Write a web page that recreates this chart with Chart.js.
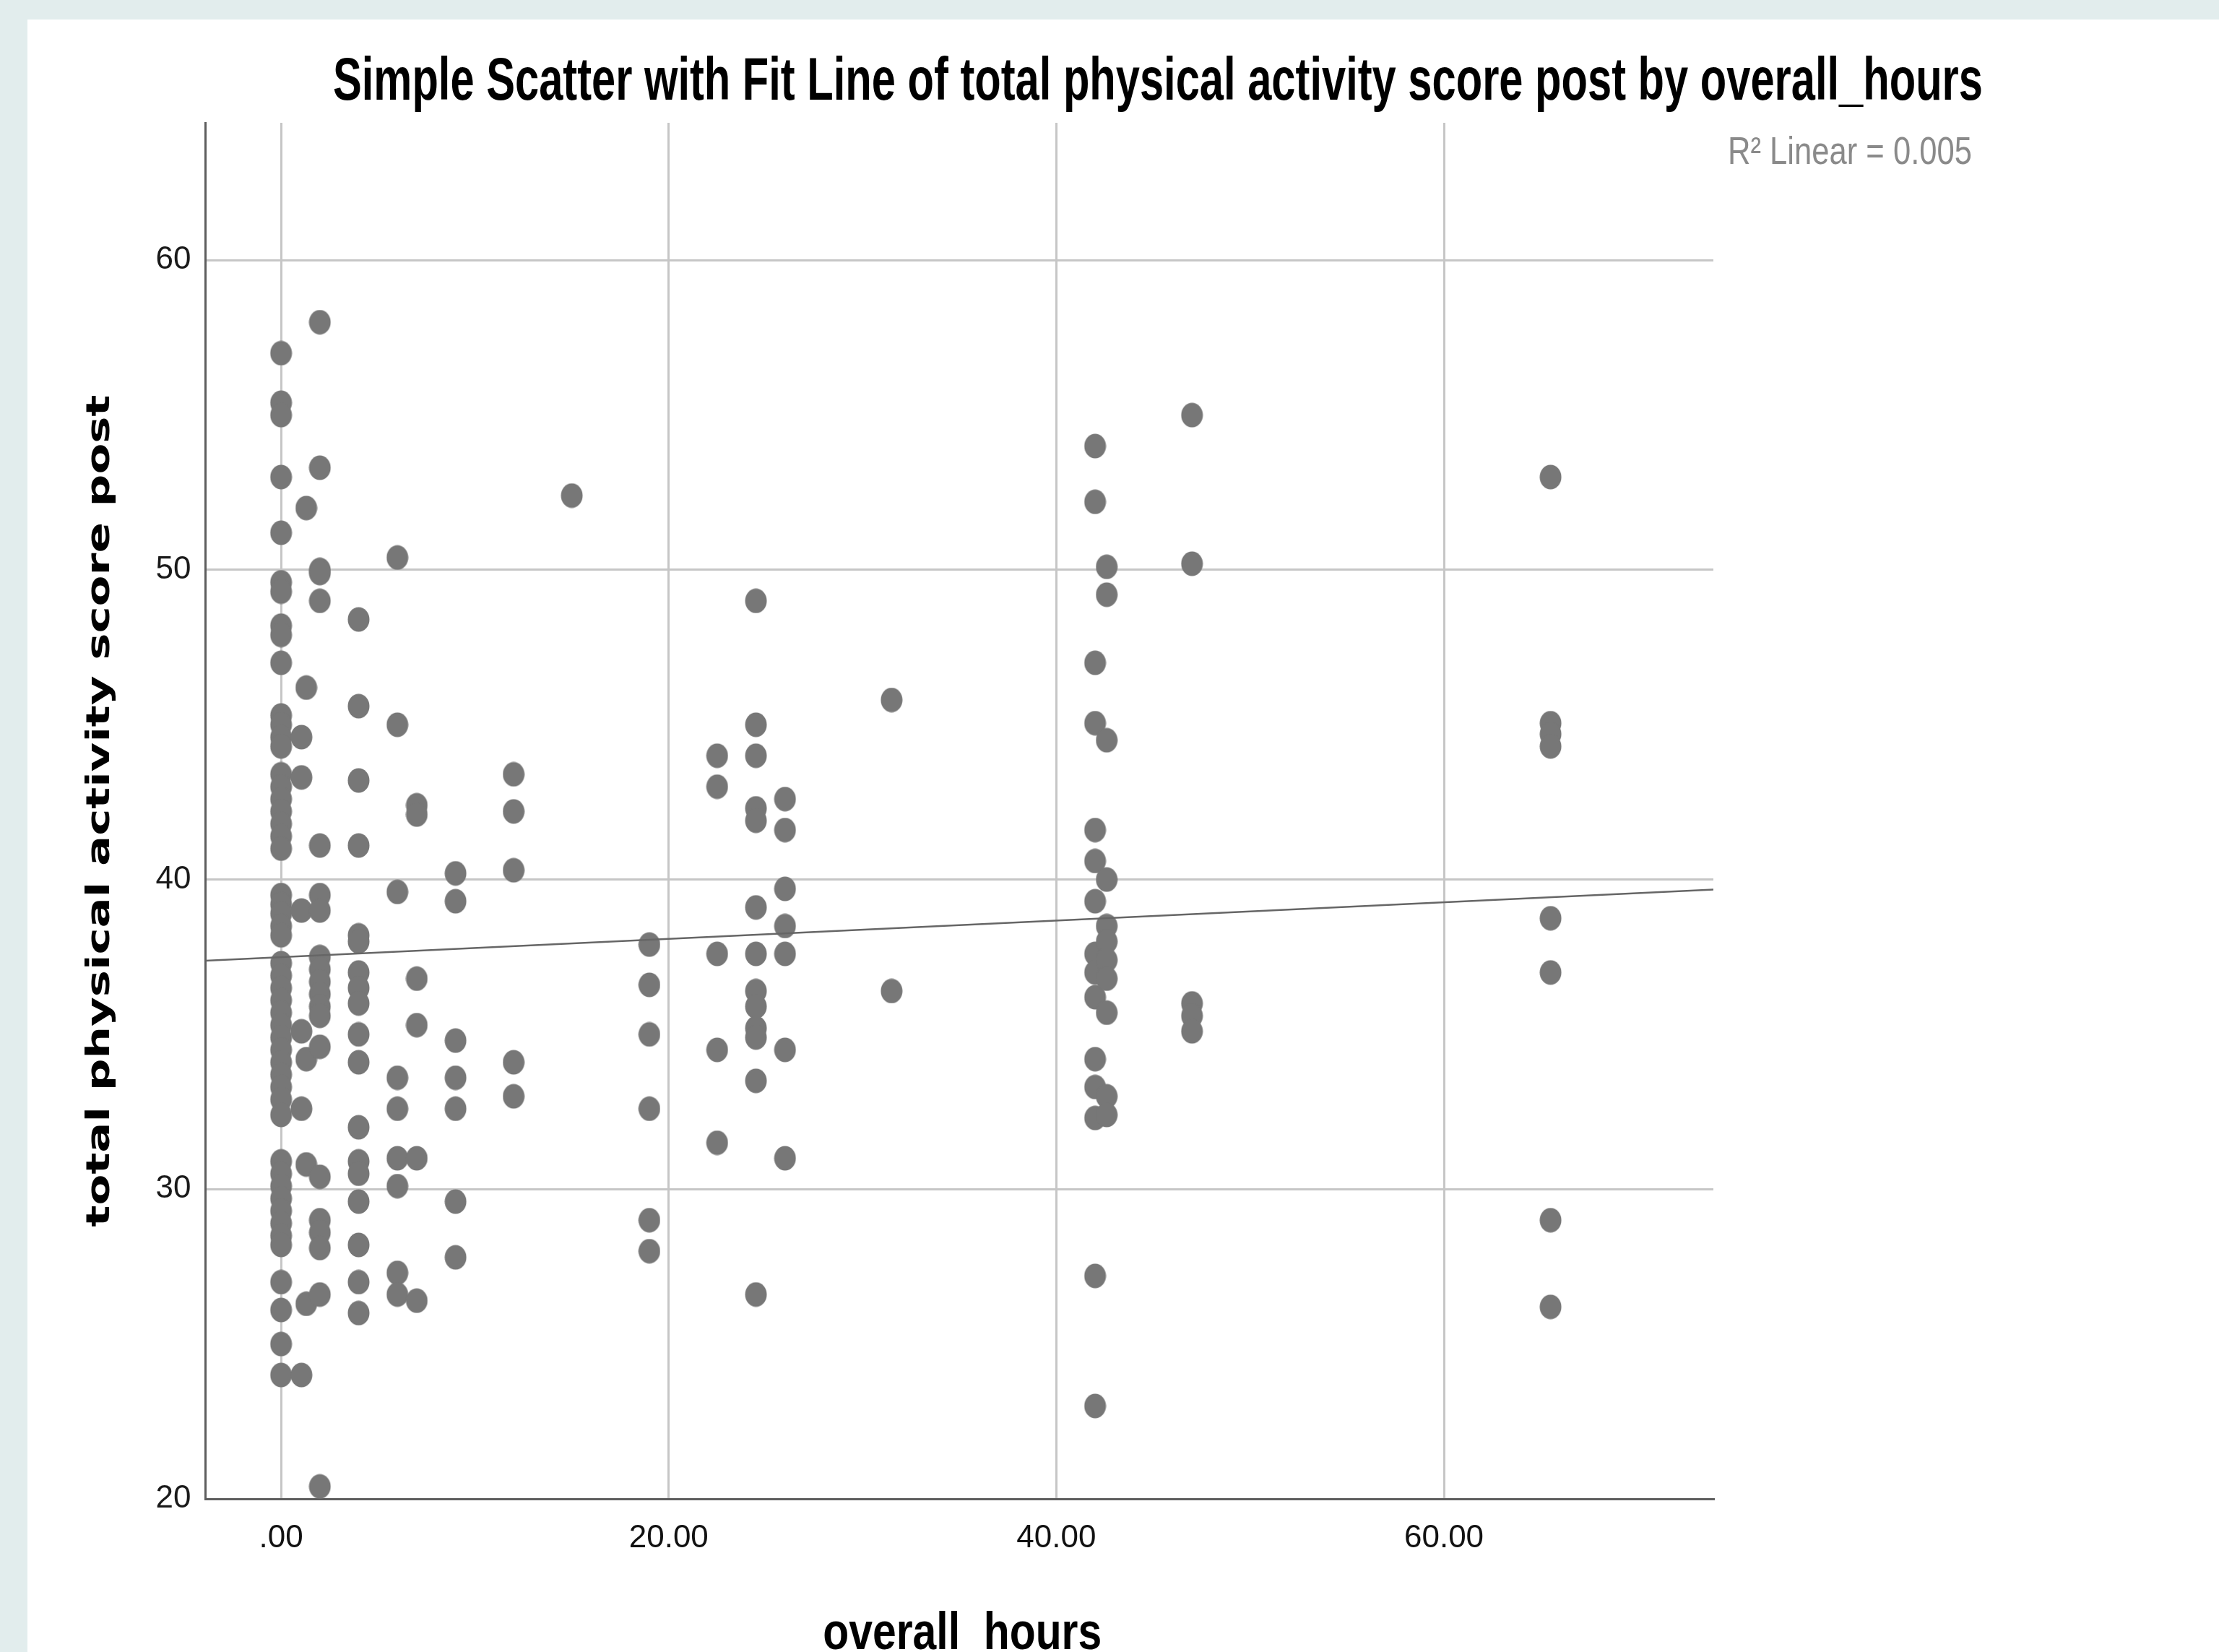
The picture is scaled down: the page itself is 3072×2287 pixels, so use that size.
<!DOCTYPE html>
<html lang="en">
<head>
    <meta charset="UTF-8">
    <title>Simple Scatter with Fit Line</title>
    <script src="https://cdn.jsdelivr.net/npm/chart.js"></script>
    <style>
        html, body { margin: 0; padding: 0; overflow: hidden; background: #e2eded; }
        .panel { position: absolute; left: 38px; top: 27px; width: 3034px; height: 2300px; background: #ffffff; }
    </style>
</head>
<body>

    <div class="panel"><canvas id="scatter"></canvas></div>

    <script>
        // overall_hours value of each column of points
        const hourGroups = [0, 1.05, 1.3, 2, 4, 6, 7, 9, 12, 15, 19, 22.5, 24.5, 26, 31.5, 42, 42.6, 47, 65.5];

        // total physical activity score post, one list per hour column
        const scoresAt0 = [57.0, 55.4, 55.0, 53.0, 51.2, 49.6, 49.3, 48.2, 47.9, 47.0, 45.3, 45.0, 44.6, 44.3, 43.4, 43.0, 42.6, 42.2, 41.8, 41.4, 41.0, 39.5, 39.2, 38.9, 38.5, 38.2, 37.3, 36.9, 36.5, 36.1, 35.7, 35.3, 34.9, 34.5, 34.1, 33.7, 33.3, 32.9, 32.4, 30.9, 30.5, 30.1, 29.7, 29.3, 28.9, 28.5, 28.2, 27.0, 26.1, 25.0, 24.0];
        const scoresAt1 = [44.6, 43.3, 39.0, 35.1, 32.6, 24.0];
        const scoresAt1_3 = [52.0, 46.2, 34.2, 30.8, 26.3];
        const scoresAt2 = [58.0, 53.3, 50.0, 49.9, 49.0, 41.1, 39.5, 39.0, 37.5, 37.1, 36.7, 36.3, 35.9, 35.6, 34.6, 30.4, 29.0, 28.6, 28.1, 26.6, 20.4];
        const scoresAt4 = [48.4, 45.6, 43.2, 41.1, 38.2, 38.0, 37.0, 36.5, 36.0, 35.0, 34.1, 32.0, 30.9, 30.5, 29.6, 28.2, 27.0, 26.0];
        const scoresAt6 = [50.4, 45.0, 39.6, 33.6, 32.6, 31.0, 30.1, 27.3, 26.6];
        const scoresAt7 = [42.4, 42.1, 36.8, 35.3, 31.0, 26.4];
        const scoresAt9 = [40.2, 39.3, 34.8, 33.6, 32.6, 29.6, 27.8];
        const scoresAt12 = [43.4, 42.2, 40.3, 34.1, 33.0];
        const scoresAt15 = [52.4];
        const scoresAt19 = [37.9, 36.6, 35.0, 32.6, 29.0, 28.0];
        const scoresAt22_5 = [44.0, 43.0, 37.6, 34.5, 31.5];
        const scoresAt24_5 = [49.0, 45.0, 44.0, 42.3, 41.9, 39.1, 37.6, 36.4, 35.9, 35.2, 34.9, 33.5, 26.6];
        const scoresAt26 = [42.6, 41.6, 39.7, 38.5, 37.6, 34.5, 31.0];
        const scoresAt31_5 = [45.8, 36.4];
        const scoresAt42 = [54.0, 52.2, 47.0, 45.05, 41.6, 40.6, 39.3, 37.6, 37.0, 36.2, 34.2, 33.3, 32.3, 27.2, 23.0];
        const scoresAt42_6 = [50.1, 49.2, 44.5, 40.0, 38.5, 38.0, 37.4, 36.8, 35.7, 33.0, 32.4];
        const scoresAt47 = [55.0, 50.2, 36.0, 35.6, 35.1];
        const scoresAt65_5 = [53.0, 45.05, 44.7, 44.3, 38.75, 37.0, 29.0, 26.2];

        const scoreGroups = [scoresAt0, scoresAt1, scoresAt1_3, scoresAt2, scoresAt4, scoresAt6, scoresAt7, scoresAt9,
            scoresAt12, scoresAt15, scoresAt19, scoresAt22_5, scoresAt24_5, scoresAt26, scoresAt31_5, scoresAt42,
            scoresAt42_6, scoresAt47, scoresAt65_5];

        const fitHours = [-3.9, 73.9];
        const fitScores = [37.38, 39.68];

        // axis ticks
        const xTickValues = [0, 20, 40, 60];
        const yTickValues = [20, 30, 40, 50, 60];

        const chartTitle = 'Simple Scatter with Fit Line of total physical activity score post by overall_hours';
        const fitLabel = 'R\u00B2 Linear = 0.005';
        const xTitle = 'overall_hours';
        const yTitle = 'total physical activity score post';

        // build the scatter points from the columns
        const points = [];
        hourGroups.forEach((h, i) => {
            scoreGroups[i].forEach(s => points.push({ x: h, y: s }));
        });
        const fitPoints = fitHours.map((h, i) => ({ x: h, y: fitScores[i] }));

        // SPSS draws its markers slightly taller than wide
        const dot = document.createElement('canvas');
        dot.width = 31;
        dot.height = 35;
        const dctx = dot.getContext('2d');
        dctx.fillStyle = '#777777';
        dctx.beginPath();
        dctx.ellipse(15.5, 17.5, 15, 17, 0, 0, Math.PI * 2);
        dctx.fill();

        // draw text squeezed/stretched to a given length
        function drawFitted(c, text, x, y, font, width, align, color) {
            c.save();
            c.font = font;
            c.fillStyle = color;
            c.textAlign = align;
            c.textBaseline = 'alphabetic';
            const k = width / c.measureText(text).width;
            c.translate(x, y);
            c.scale(k, 1);
            c.fillText(text, 0, 0);
            c.restore();
        }

        const captions = {
            id: 'captions',
            afterDraw(chart) {
                const c = chart.ctx;
                drawFitted(c, chartTitle, 1565, 111, 'bold 84px "Liberation Sans"', 2284, 'center', '#000000');
                drawFitted(c, fitLabel, 2354, 200, '53px "Liberation Sans"', 338, 'left', '#8a8a8a');
                // x title sits under the middle of the plot area
                const xMid = (chart.chartArea.left + chart.chartArea.right) / 2;
                drawFitted(c, xTitle, xMid + 4, 2256, 'bold 72px "Liberation Sans"', 386, 'center', '#000000');
                c.save();
                c.translate(113, (chart.chartArea.top + chart.chartArea.bottom) / 2);
                c.rotate(-Math.PI / 2);
                drawFitted(c, yTitle, 0, 0, 'bold 44px "DejaVu Sans"', 1152, 'center', '#000000');
                c.restore();
            }
        };

        const ctx = document.getElementById('scatter').getContext('2d');

        new Chart(ctx, {
            type: 'scatter',
            data: {
                datasets: [
                    {
                        type: 'line',
                        data: fitPoints,
                        borderColor: '#666666',
                        borderWidth: 2.5,
                        pointRadius: 0,
                        fill: false
                    },
                    {
                        data: points,
                        pointStyle: dot,
                        pointRadius: 15,
                        backgroundColor: '#777777'
                    }
                ]
            },
            options: {
                responsive: true,
                maintainAspectRatio: false,
                animation: false,
                layout: { padding: { top: 143, right: 700, left: 0, bottom: 0 } },
                plugins: {
                    legend: { display: false },
                    tooltip: { enabled: false }
                },
                scales: {
                    x: {
                        type: 'linear',
                        min: fitHours[0],
                        max: fitHours[1],
                        afterBuildTicks: s => { s.ticks = xTickValues.map(v => ({ value: v })); },
                        afterFit: s => { s.height = 252; },
                        grid: { color: '#c6c6c6', lineWidth: 3, drawTicks: false },
                        border: { color: '#5e5e5e', width: 3 },
                        ticks: {
                            padding: 28,
                            color: '#111111',
                            font: { family: '"Liberation Sans"', size: 44 },
                            callback: v => (v === 0 ? '.00' : v.toFixed(2))
                        }
                    },
                    y: {
                        min: 20,
                        max: 64.44,
                        afterBuildTicks: s => { s.ticks = yTickValues.map(v => ({ value: v })); },
                        afterFit: s => { s.width = 246.5; },
                        grid: { color: '#c6c6c6', lineWidth: 3, drawTicks: false },
                        border: { color: '#5e5e5e', width: 3 },
                        ticks: {
                            padding: 20,
                            color: '#1a1a1a',
                            font: { family: '"Liberation Sans"', size: 44 },
                            callback: v => String(v)
                        }
                    }
                }
            },
            plugins: [captions]
        });
    </script>

</body>
</html>
